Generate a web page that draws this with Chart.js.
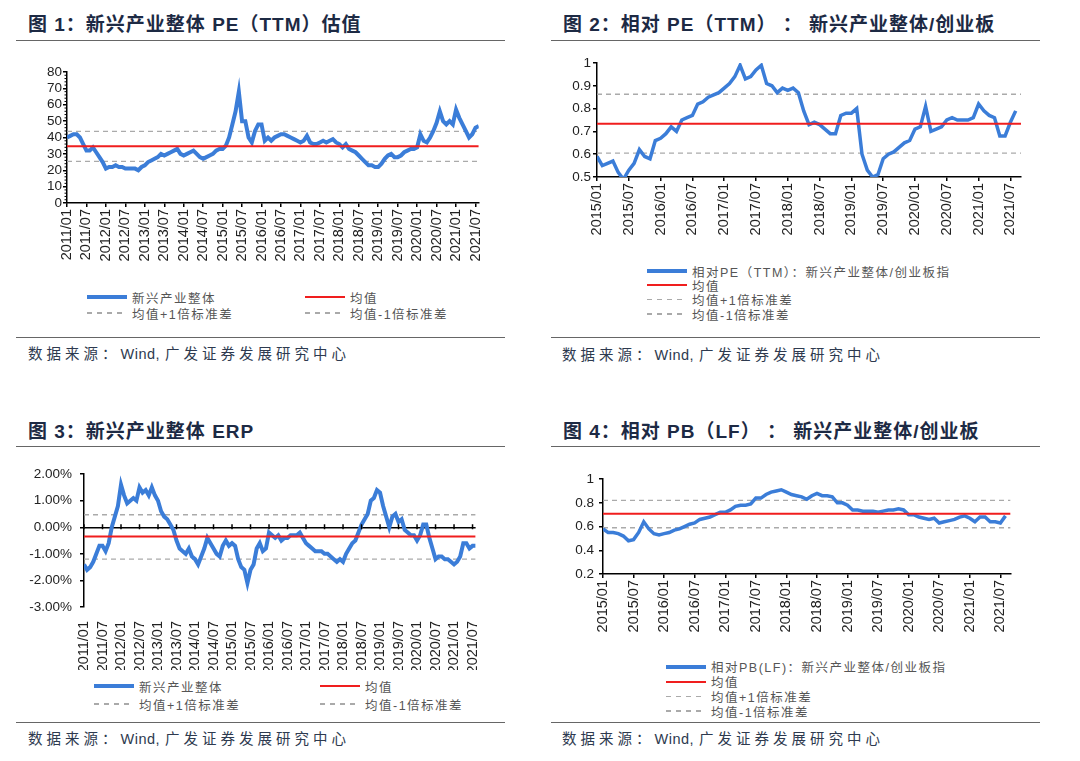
<!DOCTYPE html>
<html>
<head>
<meta charset="utf-8">
<script src="https://cdn.jsdelivr.net/npm/chart.js@4.4.1/dist/chart.umd.min.js"></script>
<style>
  body { margin: 0; background: #fff; }
  #pagina { position: relative; width: 1080px; height: 761px; overflow: hidden; background: #fff; }
  .titulo { position: absolute; font-family: "Liberation Sans", Arial, "Noto Sans CJK SC", sans-serif; font-weight: bold; font-size: 19px; line-height: 24px; color: #1d2a44; letter-spacing: 1px; white-space: nowrap; }
  .regua { position: absolute; height: 0; border-top: 1.6px solid #666; }
  .fonte { position: absolute; font-family: "Liberation Sans", Arial, "Noto Sans CJK SC", sans-serif; font-size: 14.5px; line-height: 20px; color: #2e3a4f; letter-spacing: 4px; white-space: nowrap; }
  .fonte b { font-weight: normal; letter-spacing: 0.5px; margin-right: 5px; }
  .leg { position: absolute; height: 16px; display: flex; align-items: center; font-family: "Liberation Sans", Arial, "Noto Sans CJK SC", sans-serif; font-size: 12.5px; color: #555; letter-spacing: 1.5px; white-space: nowrap; }
  .leg span { display: inline-block; width: 40px; margin-right: 5px; }
  canvas { position: absolute; }
</style>
</head>
<body>
<div id="pagina">
  <div class="titulo" style="left:28px; top:13px;">图 1：新兴产业整体 PE（TTM）估值</div>
  <div class="regua" style="left:16px; width:489px; top:40px;"></div>
  <canvas id="fig1" width="480" height="210" style="left:15px; top:60px;"></canvas>
  <div class="regua" style="left:16px; width:489px; top:337px;"></div>
  <div class="fonte" style="left:28px; top:344px;">数据来源：<b>Wind,</b>广发证券发展研究中心</div>

  <div class="titulo" style="left:563px; top:13px;">图 2：相对 PE（TTM）&nbsp;：&nbsp;新兴产业整体/创业板</div>
  <div class="regua" style="left:551px; width:489px; top:40px;"></div>
  <canvas id="fig2" width="480" height="190" style="left:550px; top:50px;"></canvas>
  <div class="regua" style="left:551px; width:489px; top:337px;"></div>
  <div class="fonte" style="left:562px; top:345px;">数据来源：<b>Wind,</b>广发证券发展研究中心</div>

  <div class="titulo" style="left:28px; top:420px;">图 3：新兴产业整体 ERP</div>
  <div class="regua" style="left:16px; width:489px; top:446px;"></div>
  <canvas id="fig3" width="485" height="212" style="left:15px; top:458px;"></canvas>
  <div class="regua" style="left:16px; width:489px; top:722px;"></div>
  <div class="fonte" style="left:28px; top:729px;">数据来源：<b>Wind,</b>广发证券发展研究中心</div>

  <div class="titulo" style="left:563px; top:420px;">图 4：相对 PB（LF）&nbsp;：&nbsp;新兴产业整体/创业板</div>
  <div class="regua" style="left:551px; width:489px; top:446px;"></div>
  <canvas id="fig4" width="470" height="170" style="left:550px; top:466px;"></canvas>
  <div class="regua" style="left:551px; width:489px; top:722px;"></div>
  <div class="fonte" style="left:562px; top:729px;">数据来源：<b>Wind,</b>广发证券发展研究中心</div>
</div>

<script>
// rótulos do eixo x (a cada 6 meses)
const rotulos2011 = ["2011/01", "2011/07", "2012/01", "2012/07", "2013/01", "2013/07", "2014/01", "2014/07",
  "2015/01", "2015/07", "2016/01", "2016/07", "2017/01", "2017/07", "2018/01", "2018/07",
  "2019/01", "2019/07", "2020/01", "2020/07", "2021/01", "2021/07"];
const rotulos2015 = ["2015/01", "2015/07", "2016/01", "2016/07", "2017/01", "2017/07", "2018/01", "2018/07",
  "2019/01", "2019/07", "2020/01", "2020/07", "2021/01", "2021/07"];

// fig 1: PE (TTM), mensal 2011/01 - 2021/08
const peNovo = [
  40, 41, 42, 42, 40, 36, 32, 32, 34, 31, 28, 25,
  21, 22, 22, 23, 22, 22, 21, 21, 21, 21, 20, 22,
  23, 25, 26, 27, 28, 30, 29, 30, 31, 32, 33, 30,
  29, 30, 31, 32, 30, 28, 27, 28, 29, 30, 32, 33,
  33, 35, 40, 48, 56, 68, 50, 50, 40, 37, 44, 48,
  48, 38, 40, 38, 40, 41, 42, 42, 41, 40, 39, 38,
  37, 38, 41, 37, 36, 36, 37, 38, 37, 38, 39, 37,
  36, 34, 36, 33, 32, 31, 29, 27, 25, 23, 23, 22,
  22, 24, 27, 29, 30, 28, 28, 29, 31, 32, 33, 33,
  34, 42, 38, 37, 40, 44, 49, 56, 50, 48, 50, 48,
  57, 52, 48, 44, 40, 42, 46, 47
];
const linhasFig1 = [34.6, 43.7, 25.4]; // média, +1 dp, -1 dp
const nomesFig1 = ["新兴产业整体", "均值", "均值+1倍标准差", "均值-1倍标准差"];

// fig 2: PE relativo, mensal 2015/01 - 2021/08
const peRelativo = [
  0.59, 0.55, 0.56, 0.57, 0.52, 0.49, 0.53, 0.56, 0.62, 0.59, 0.58, 0.66,
  0.67, 0.69, 0.72, 0.70, 0.75, 0.76, 0.77, 0.82, 0.83, 0.85, 0.86, 0.87,
  0.89, 0.91, 0.94, 0.99, 0.93, 0.94, 0.97, 0.99, 0.91, 0.90, 0.87, 0.89,
  0.88, 0.89, 0.87, 0.79, 0.73, 0.74, 0.73, 0.71, 0.69, 0.69, 0.77, 0.78,
  0.78, 0.80, 0.60, 0.53, 0.50, 0.51, 0.58, 0.60, 0.61, 0.63, 0.65, 0.66,
  0.71, 0.72, 0.81, 0.70, 0.71, 0.72, 0.75, 0.76, 0.75, 0.75, 0.75, 0.76,
  0.82, 0.79, 0.77, 0.76, 0.68, 0.68, 0.74, 0.79
];
const linhasFig2 = [0.734, 0.863, 0.605];
const nomesFig2 = ["相对PE（TTM）：新兴产业整体/创业板指", "均值", "均值+1倍标准差", "均值-1倍标准差"];

// fig 3: ERP (%), mensal 2011/01 - 2021/08
const erpNovo = [
  -1.4, -1.6, -1.5, -1.3, -1.0, -0.7, -0.7, -0.9, -0.6, 0.0, 0.4, 0.8,
  1.6, 1.2, 0.9, 1.0, 1.1, 1.0, 1.5, 1.3, 1.4, 1.2, 1.5, 1.2,
  1.0, 0.6, 0.4, 0.3, 0.1, -0.1, -0.5, -0.8, -0.9, -1.0, -0.8, -1.1,
  -1.2, -1.4, -1.1, -0.8, -0.4, -0.6, -0.8, -1.0, -1.1, -0.7, -0.5, -0.7,
  -0.6, -0.7, -1.2, -1.5, -1.6, -2.1, -1.6, -1.4, -0.8, -0.6, -0.9, -0.8,
  -0.2, -0.3, -0.4, -0.3, -0.5, -0.4, -0.4, -0.3, -0.3, -0.3, -0.2, -0.4,
  -0.6, -0.7, -0.8, -0.9, -0.9, -0.9, -1.0, -1.0, -1.1, -1.2, -1.3, -1.2,
  -1.3, -1.0, -0.8, -0.6, -0.5, -0.2, 0.1, 0.3, 0.5, 1.0, 1.1, 1.4,
  1.3, 0.8, 0.4, 0.0, 0.4, 0.5, 0.2, 0.3, -0.1, -0.2, -0.3, -0.3,
  -0.5, -0.3, 0.1, 0.1, -0.4, -0.8, -1.2, -1.1, -1.1, -1.2, -1.2, -1.3,
  -1.4, -1.3, -1.1, -0.6, -0.6, -0.8, -0.7, -0.7
];
const linhasFig3 = [-0.35, 0.47, -1.2];
const nomesFig3 = ["新兴产业整体", "均值", "均值+1倍标准差", "均值-1倍标准差"];

// fig 4: PB relativo, mensal 2015/01 - 2021/08
const pbRelativo = [
  0.58, 0.55, 0.55, 0.54, 0.52, 0.48, 0.49, 0.55, 0.64, 0.58, 0.54, 0.53,
  0.54, 0.55, 0.57, 0.58, 0.60, 0.62, 0.63, 0.66, 0.67, 0.68, 0.70, 0.72,
  0.72, 0.74, 0.77, 0.78, 0.78, 0.79, 0.84, 0.84, 0.87, 0.89, 0.90, 0.91,
  0.89, 0.87, 0.86, 0.85, 0.83, 0.86, 0.88, 0.86, 0.86, 0.85, 0.80, 0.80,
  0.78, 0.74, 0.74, 0.73, 0.73, 0.73, 0.72, 0.73, 0.74, 0.74, 0.75, 0.74,
  0.70, 0.70, 0.68, 0.67, 0.66, 0.67, 0.63, 0.64, 0.65, 0.66, 0.68, 0.69,
  0.67, 0.64, 0.68, 0.68, 0.64, 0.64, 0.63, 0.69
];
const linhasFig4 = [0.707, 0.82, 0.59];
const nomesFig4 = ["相对PB(LF)：新兴产业整体/创业板指", "均值", "均值+1倍标准差", "均值-1倍标准差"];

const azul = "#3b7dd8";
const vermelho = "#f01e1e";
const cinza = "#aaaaaa";

Chart.defaults.font.family = '"Liberation Sans", Arial, sans-serif';
Chart.defaults.color = "#222";

// marcas pequenas sobre a linha do zero (fig 3)
const marcasNoZero = {
  id: "marcasNoZero",
  afterDatasetsDraw(chart) {
    const { ctx, scales: { x, y } } = chart;
    const y0 = y.getPixelForValue(0);
    ctx.save();
    ctx.strokeStyle = "#000";
    ctx.lineWidth = 1.5;
    x.ticks.forEach(t => {
      const px = x.getPixelForValue(t.value);
      ctx.beginPath();
      ctx.moveTo(px, y0 - 3);
      ctx.lineTo(px, y0 + 2);
      ctx.stroke();
    });
    ctx.restore();
  }
};

// marcas menores no eixo y (fig 1, a cada 2)
const marcasMenores = {
  id: "marcasMenores",
  afterDraw(chart) {
    const { ctx, scales: { y } } = chart;
    ctx.save();
    ctx.strokeStyle = "#000";
    ctx.lineWidth = 1;
    for (let v = y.min; v <= y.max; v += 2) {
      if (v % 10 === 0) continue;
      const py = y.getPixelForValue(v);
      ctx.beginPath();
      ctx.moveTo(y.right - 2.5, py);
      ctx.lineTo(y.right, py);
      ctx.stroke();
    }
    ctx.restore();
  }
};

function criarGrafico(id, cfg) {
  const xMax = cfg.xMax;
  const linha = v => [{ x: 0, y: v }, { x: xMax, y: v }];
  const zero = cfg.linhaZero;
  const extras = [];
  if (zero) extras.push(marcasNoZero);
  if (cfg.menores) extras.push(marcasMenores);

  return new Chart(document.getElementById(id), {
    type: "line",
    data: {
      datasets: [
        {
          label: cfg.nomes[0],
          data: cfg.valores.map((v, i) => ({ x: i, y: v })),
          borderColor: azul,
          borderWidth: cfg.espessura,
          pointRadius: 0,
          order: 2
        },
        { label: cfg.nomes[1], data: linha(cfg.linhas[0]), borderColor: vermelho, borderWidth: 2, pointRadius: 0, order: 1 },
        { label: cfg.nomes[2], data: linha(cfg.linhas[1]), borderColor: cinza, borderWidth: 1.3, borderDash: [5, 4], pointRadius: 0, order: 3 },
        { label: cfg.nomes[3], data: linha(cfg.linhas[2]), borderColor: cinza, borderWidth: 1.3, borderDash: [5, 4], pointRadius: 0, order: 3 }
      ]
    },
    options: {
      responsive: false,
      animation: false,
      layout: { padding: { top: cfg.padTopo, right: cfg.padDireita, left: 0, bottom: 0 } },
      plugins: { legend: { display: false }, tooltip: { enabled: false } },
      scales: {
        x: {
          type: "linear",
          min: 0,
          max: xMax,
          afterFit: s => { s.height = cfg.alturaX; },
          afterBuildTicks: s => { s.ticks = cfg.rotulos.map((_, i) => ({ value: i * 6 })); },
          ticks: {
            autoSkip: false,
            minRotation: 90,
            maxRotation: 90,
            padding: zero ? 10 : 2,
            font: { size: 14.5 },
            callback: (v, i) => cfg.rotulos[i]
          },
          grid: { display: !zero, drawOnChartArea: false, tickLength: 4, color: "#000", lineWidth: 1.5 },
          border: { display: !zero, color: "#000", width: 1.5 }
        },
        y: {
          min: cfg.yMin,
          max: cfg.yMax,
          afterFit: s => { s.width = cfg.larguraY; },
          ticks: {
            autoSkip: false,
            stepSize: cfg.passoY,
            padding: cfg.padY,
            font: { size: 13.5 },
            callback: cfg.formatoY || (v => v)
          },
          grid: {
            drawOnChartArea: !!zero,
            tickLength: 4,
            color: c => (zero && c.tick && c.tick.value === 0) ? "#000" : (zero ? "rgba(0,0,0,0)" : "#000"),
            tickColor: "#000",
            lineWidth: 1.5
          },
          border: { color: "#000", width: 1.5 }
        }
      }
    },
    plugins: extras
  });
}

criarGrafico("fig1", {
  valores: peNovo, linhas: linhasFig1, nomes: nomesFig1, rotulos: rotulos2011,
  xMax: 127, yMin: 0, yMax: 80, passoY: 10, espessura: 4,
  padTopo: 12, padDireita: 12, larguraY: 52, alturaX: 67, padY: 1, menores: true
});

criarGrafico("fig2", {
  valores: peRelativo, linhas: linhasFig2, nomes: nomesFig2, rotulos: rotulos2015,
  xMax: 80, yMin: 0.5, yMax: 1, passoY: 0.1, espessura: 3.5,
  padTopo: 13, padDireita: 8, larguraY: 47, alturaX: 63, padY: 2
});

criarGrafico("fig3", {
  valores: erpNovo, linhas: linhasFig3, nomes: nomesFig3, rotulos: rotulos2011,
  xMax: 127, yMin: -3, yMax: 2, passoY: 1, espessura: 4,
  padTopo: 12, padDireita: 8, larguraY: 69, alturaX: 63, padY: 8,
  linhaZero: true, formatoY: v => v.toFixed(2) + "%"
});

criarGrafico("fig4", {
  valores: pbRelativo, linhas: linhasFig4, nomes: nomesFig4, rotulos: rotulos2015,
  xMax: 80, yMin: 0.2, yMax: 1, passoY: 0.2, espessura: 3.5,
  padTopo: 13, padDireita: 9, larguraY: 53, alturaX: 62, padY: 5
});

// legendas em HTML
const estilos = {
  azul: "height:4px; background:" + azul,
  vermelho: "height:2px; background:" + vermelho,
  tracejado: "height:1.5px; background:repeating-linear-gradient(90deg," + cinza + " 0 5px, transparent 5px 10px)"
};
const tipos = ["azul", "vermelho", "tracejado", "tracejado"];

function legenda(nomes, posicoes) {
  const pagina = document.getElementById("pagina");
  nomes.forEach((nome, i) => {
    const [x, y] = posicoes[i];
    const item = document.createElement("div");
    item.className = "leg";
    item.style.left = x + "px";
    item.style.top = (y - 8) + "px";
    item.innerHTML = '<span style="' + estilos[tipos[i]] + '"></span>' + nome;
    pagina.appendChild(item);
  });
}

legenda(nomesFig1, [[87, 297], [305, 297], [87, 313], [305, 313]]);
legenda(nomesFig2, [[647, 271], [647, 285], [647, 299.5], [647, 314]]);
legenda(nomesFig3, [[94, 686], [320, 686], [94, 704], [320, 704]]);
legenda(nomesFig4, [[666, 666.5], [666, 681.5], [666, 696.5], [666, 711]]);
</script>
</body>
</html>
